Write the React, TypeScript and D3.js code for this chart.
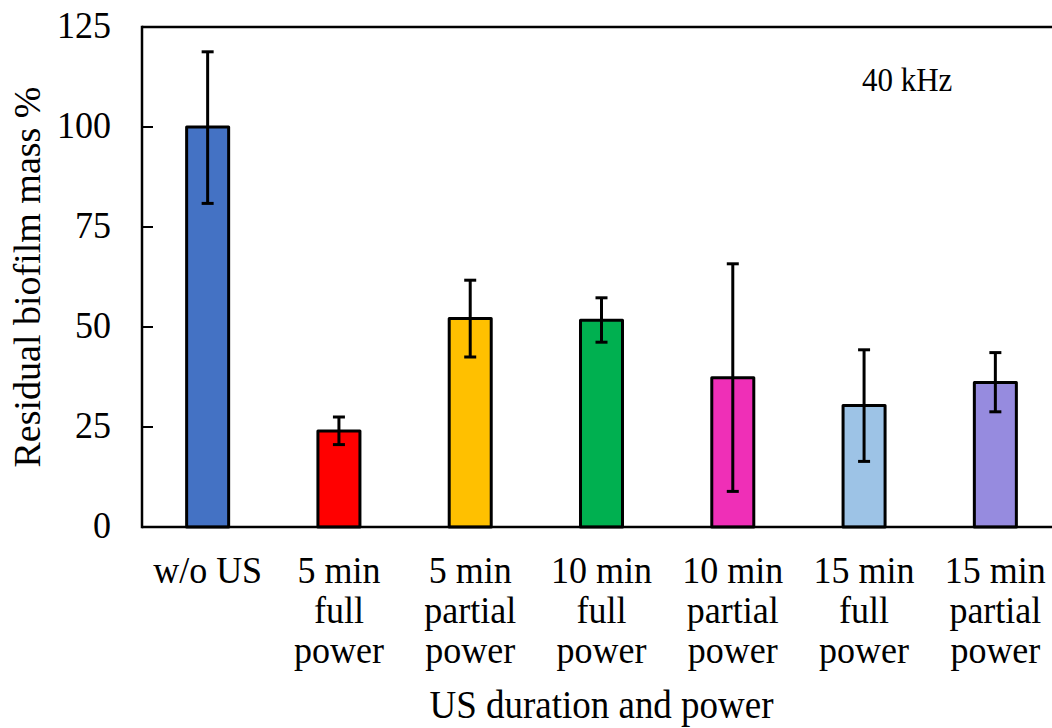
import React from "react";
import * as d3 from "d3";

const categories: string[][] = [
  ["w/o US"],
  ["5 min", "full", "power"],
  ["5 min", "partial", "power"],
  ["10 min", "full", "power"],
  ["10 min", "partial", "power"],
  ["15 min", "full", "power"],
  ["15 min", "partial", "power"],
];
const values = [100, 24, 52.1, 51.7, 37.3, 30.4, 36.1];
const errUpper = [118.8, 27.5, 61.7, 57.3, 65.8, 44.3, 43.6];
const errLower = [80.9, 20.6, 42.5, 46.2, 8.9, 16.4, 28.8];
const colors = ["#4472C4", "#FF0000", "#FFC000", "#00B050", "#EF2FB7", "#9DC3E6", "#968BDF"];
const yTicks = [0, 25, 50, 75, 100, 125];

const W = 1052;
const H = 728;
const left = 142;
const right = 1061;
const top = 27;
const bottom = 527;
const FONT = "'Liberation Serif', 'Times New Roman', serif";
const SY = 1.07;

function SText(props: { x: number; y: number; size: number; anchor?: string; children: React.ReactNode }) {
  return (
    <text
      transform={`translate(${props.x},${props.y}) scale(1,${SY})`}
      textAnchor={props.anchor || "start"}
      fontSize={props.size}
      fill="#000"
    >
      {props.children}
    </text>
  );
}

export default function App() {
  const idx = categories.map((_, i) => String(i));
  const x = d3.scaleBand<string>().domain(idx).range([left, right]).paddingInner(0.68).paddingOuter(0.34);
  const y = d3.scaleLinear().domain([0, 125]).range([bottom, top]);
  const bw = x.bandwidth();
  const cap = 6;

  return (
    <svg width={W} height={H} style={{ position: "absolute", left: 0, top: 0, background: "#fff" }} fontFamily={FONT}>
      <rect x={0} y={0} width={W} height={H} fill="#fff" />
      {values.map((v, i) => (
        <rect
          key={"b" + i}
          x={x(String(i))!}
          y={y(v)}
          width={bw}
          height={y(0) - y(v)}
          fill={colors[i]}
          stroke="#000"
          strokeWidth={3}
          strokeLinejoin="round"
        />
      ))}
      {values.map((_, i) => {
        const cx = x(String(i))! + bw / 2;
        return (
          <g key={"e" + i} stroke="#000" strokeWidth={3}>
            <line x1={cx} x2={cx} y1={y(errUpper[i])} y2={y(errLower[i])} />
            <line x1={cx - cap} x2={cx + cap} y1={y(errUpper[i])} y2={y(errUpper[i])} />
            <line x1={cx - cap} x2={cx + cap} y1={y(errLower[i])} y2={y(errLower[i])} />
          </g>
        );
      })}
      <line x1={left} x2={W} y1={top} y2={top} stroke="#000" strokeWidth={2.5} />
      <line x1={left} x2={W} y1={bottom} y2={bottom} stroke="#000" strokeWidth={2.5} />
      <line x1={left} x2={left} y1={top - 1.25} y2={bottom + 1.25} stroke="#000" strokeWidth={2.5} />
      <line x1={right} x2={right} y1={top} y2={bottom} stroke="#000" strokeWidth={2.5} />
      {yTicks.map((t) => (
        <g key={"t" + t}>
          <line x1={left} x2={left + 11} y1={y(t)} y2={y(t)} stroke="#000" strokeWidth={2} />
          <SText x={111} y={y(t) + 11} size={36} anchor="end">
            {t}
          </SText>
        </g>
      ))}
      {categories.map((lines, i) => {
        const cx = x(String(i))! + bw / 2;
        return (
          <g key={"c" + i}>
            {lines.map((l, j) => (
              <SText key={j} x={cx} y={583 + j * 40} size={36} anchor="middle">
                {l}
              </SText>
            ))}
          </g>
        );
      })}
      <SText x={(left + right) / 2} y={718} size={37} anchor="middle">
        US duration and power
      </SText>
      <text
        transform={`translate(40, ${(top + bottom) / 2}) rotate(-90)`}
        textAnchor="middle"
        fontSize={38}
        fill="#000"
      >
        Residual biofilm mass %
      </text>
      <SText x={862} y={91} size={31}>
        40 kHz
      </SText>
    </svg>
  );
}
